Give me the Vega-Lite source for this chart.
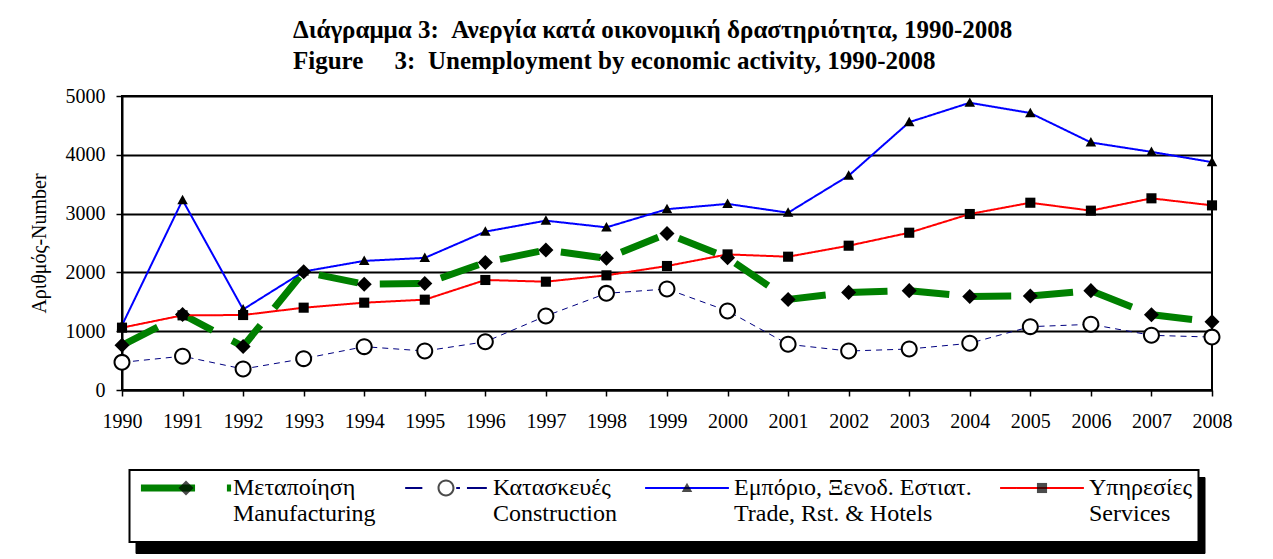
{
  "$schema": "https://vega.github.io/schema/vega-lite/v6.json",
  "width": 1090,
  "height": 294,
  "autosize": {"type": "none"},
  "padding": {"left": 122, "top": 96, "right": 61, "bottom": 169},
  "background": "white",
  "title": {
    "text": ["Διάγραμμα 3:\u00a0\u00a0Ανεργία κατά οικονομική δραστηριότητα, 1990-2008", "Figure\u00a0\u00a0\u00a0\u00a0\u00a03:\u00a0\u00a0Unemployment by economic activity, 1990-2008"],
    "anchor": "start",
    "frame": "group",
    "dx": 171,
    "font": "Liberation Serif",
    "fontSize": 25,
    "fontWeight": "bold",
    "color": "black",
    "lineHeight": 31,
    "offset": 12
  },
  "data": {
    "values": [
      {"year": 1990, "series": "Manufacturing", "value": 760},
      {"year": 1991, "series": "Manufacturing", "value": 1285},
      {"year": 1992, "series": "Manufacturing", "value": 740},
      {"year": 1993, "series": "Manufacturing", "value": 2010},
      {"year": 1994, "series": "Manufacturing", "value": 1800},
      {"year": 1995, "series": "Manufacturing", "value": 1810},
      {"year": 1996, "series": "Manufacturing", "value": 2170},
      {"year": 1997, "series": "Manufacturing", "value": 2380},
      {"year": 1998, "series": "Manufacturing", "value": 2240},
      {"year": 1999, "series": "Manufacturing", "value": 2660},
      {"year": 2000, "series": "Manufacturing", "value": 2250},
      {"year": 2001, "series": "Manufacturing", "value": 1540},
      {"year": 2002, "series": "Manufacturing", "value": 1660},
      {"year": 2003, "series": "Manufacturing", "value": 1690},
      {"year": 2004, "series": "Manufacturing", "value": 1590},
      {"year": 2005, "series": "Manufacturing", "value": 1600},
      {"year": 2006, "series": "Manufacturing", "value": 1690},
      {"year": 2007, "series": "Manufacturing", "value": 1280},
      {"year": 2008, "series": "Manufacturing", "value": 1160},
      {"year": 1990, "series": "Construction", "value": 470},
      {"year": 1991, "series": "Construction", "value": 575},
      {"year": 1992, "series": "Construction", "value": 357},
      {"year": 1993, "series": "Construction", "value": 533},
      {"year": 1994, "series": "Construction", "value": 737},
      {"year": 1995, "series": "Construction", "value": 663},
      {"year": 1996, "series": "Construction", "value": 820},
      {"year": 1997, "series": "Construction", "value": 1259},
      {"year": 1998, "series": "Construction", "value": 1644},
      {"year": 1999, "series": "Construction", "value": 1718},
      {"year": 2000, "series": "Construction", "value": 1344},
      {"year": 2001, "series": "Construction", "value": 777},
      {"year": 2002, "series": "Construction", "value": 663},
      {"year": 2003, "series": "Construction", "value": 697},
      {"year": 2004, "series": "Construction", "value": 794},
      {"year": 2005, "series": "Construction", "value": 1077},
      {"year": 2006, "series": "Construction", "value": 1117},
      {"year": 2007, "series": "Construction", "value": 930},
      {"year": 2008, "series": "Construction", "value": 900},
      {"year": 1990, "series": "Trade", "value": 1100},
      {"year": 1991, "series": "Trade", "value": 3230},
      {"year": 1992, "series": "Trade", "value": 1370},
      {"year": 1993, "series": "Trade", "value": 2015},
      {"year": 1994, "series": "Trade", "value": 2196},
      {"year": 1995, "series": "Trade", "value": 2247},
      {"year": 1996, "series": "Trade", "value": 2693},
      {"year": 1997, "series": "Trade", "value": 2880},
      {"year": 1998, "series": "Trade", "value": 2766},
      {"year": 1999, "series": "Trade", "value": 3075},
      {"year": 2000, "series": "Trade", "value": 3165},
      {"year": 2001, "series": "Trade", "value": 3015},
      {"year": 2002, "series": "Trade", "value": 3645},
      {"year": 2003, "series": "Trade", "value": 4555},
      {"year": 2004, "series": "Trade", "value": 4885},
      {"year": 2005, "series": "Trade", "value": 4710},
      {"year": 2006, "series": "Trade", "value": 4210},
      {"year": 2007, "series": "Trade", "value": 4050},
      {"year": 2008, "series": "Trade", "value": 3875},
      {"year": 1990, "series": "Services", "value": 1060},
      {"year": 1991, "series": "Services", "value": 1270},
      {"year": 1992, "series": "Services", "value": 1275},
      {"year": 1993, "series": "Services", "value": 1400},
      {"year": 1994, "series": "Services", "value": 1485},
      {"year": 1995, "series": "Services", "value": 1536},
      {"year": 1996, "series": "Services", "value": 1871},
      {"year": 1997, "series": "Services", "value": 1842},
      {"year": 1998, "series": "Services", "value": 1950},
      {"year": 1999, "series": "Services", "value": 2109},
      {"year": 2000, "series": "Services", "value": 2306},
      {"year": 2001, "series": "Services", "value": 2267},
      {"year": 2002, "series": "Services", "value": 2454},
      {"year": 2003, "series": "Services", "value": 2675},
      {"year": 2004, "series": "Services", "value": 2993},
      {"year": 2005, "series": "Services", "value": 3185},
      {"year": 2006, "series": "Services", "value": 3050},
      {"year": 2007, "series": "Services", "value": 3260},
      {"year": 2008, "series": "Services", "value": 3140}
    ]
  },
  "encoding": {
    "x": {
      "field": "year",
      "type": "ordinal",
      "scale": {"type": "point", "padding": 0},
      "axis": {
        "title": null,
        "labelAngle": 0,
        "labelFont": "Liberation Serif",
        "labelFontSize": 20,
        "labelColor": "black",
        "labelPadding": 15,
        "domainColor": "black",
        "domainWidth": 2,
        "tickColor": "black",
        "tickWidth": 1.5,
        "tickSize": 6,
        "grid": false
      }
    },
    "y": {
      "field": "value",
      "type": "quantitative",
      "scale": {"domain": [0, 5000], "nice": false},
      "axis": {
        "values": [0, 1000, 2000, 3000, 4000, 5000],
        "format": "d",
        "title": "Αριθμός-Number",
        "titleFont": "Liberation Serif",
        "titleFontSize": 20,
        "titleFontWeight": "normal",
        "titleColor": "black",
        "titlePadding": 16,
        "labelFont": "Liberation Serif",
        "labelFontSize": 20,
        "labelColor": "black",
        "labelPadding": 11,
        "grid": true,
        "gridColor": "black",
        "gridWidth": 2,
        "domainColor": "black",
        "domainWidth": 2,
        "tickColor": "black",
        "tickWidth": 1.5,
        "tickSize": 6
      }
    }
  },
  "layer": [
    {
      "mark": {"type": "line", "strokeCap": "butt"},
      "encoding": {
        "stroke": {
          "field": "series",
          "type": "nominal",
          "sort": ["Manufacturing", "Construction", "Trade", "Services"],
          "scale": {"range": ["#008000", "#000080", "#0000ff", "#ff0000"]},
          "legend": {
            "orient": "none",
            "legendX": 7.5,
            "legendY": 374,
            "direction": "horizontal",
            "columns": 4,
            "columnPadding": 19,
            "gridAlign": "each",
            "padding": 6,
            "title": "\u00a0",
            "titleOrient": "bottom",
            "titleFontSize": 6,
            "titlePadding": 4,
            "fillColor": "white",
            "strokeColor": "black",
            "zindex": 2,
            "symbolSize": 462,
            "symbolStrokeWidth": 2,
            "symbolOffset": 38.5,
            "labelOffset": 35,
            "labelFont": "Liberation Serif",
            "labelFontSize": 24,
            "labelColor": "black",
            "labelLimit": 500,
            "labelBaseline": "middle",
            "labelExpr": "datum.value === 'Manufacturing' ? ['Μεταποίηση', 'Manufacturing'] : datum.value === 'Construction' ? ['Κατασκευές', 'Construction'] : datum.value === 'Trade' ? ['Εμπόριο, Ξενοδ. Εστιατ.', 'Trade, Rst. & Hotels'] : ['Υπηρεσίες', 'Services']",
            "encode": {
              "legend": {"update": {"strokeWidth": {"value": 2}}},
              "symbols": {
                "update": {
                  "shape": {"signal": "datum.value === 'Manufacturing' ? 'M-4.3,0M4.3,0M-4.1,-0.233H0.75V0.233H-4.1Z M3.9,-0.233H4.1V0.233H3.9Z' : datum.value === 'Construction' ? 'M-4.3,0M4.3,0M-3.8,0H-2.2M0.95,0H1.3M1.95,0H3.8' : 'M-4.3,0M4.3,0M-3.9,0H3.9'"},
                  "fill": {"signal": "datum.value === 'Manufacturing' ? '#008000' : 'transparent'"},
                  "strokeWidth": {"value": 2},
                  "strokeDash": {"value": [1, 0]},
                  "size": {"value": 462},
                  "opacity": {"value": 1}
                }
              }
            }
          }
        },
        "strokeWidth": {
          "condition": [
            {"test": "datum.series === 'Manufacturing'", "value": 7},
            {"test": "datum.series === 'Construction'", "value": 1}
          ],
          "value": 2
        },
        "strokeDash": {
          "condition": [
            {"test": "datum.series === 'Manufacturing'", "value": [40, 22]},
            {"test": "datum.series === 'Construction'", "value": [6, 5]}
          ],
          "value": [1, 0]
        }
      }
    },
    {
      "transform": [{"filter": "datum.series === 'Construction'"}],
      "mark": {"type": "point", "shape": "circle", "filled": true, "fill": "white", "strokeWidth": 0, "size": 240, "opacity": 1}
    },
    {
      "mark": {"type": "point", "filled": true, "color": "black", "size": 462},
      "encoding": {
        "shape": {
          "field": "series",
          "type": "nominal",
          "scale": {
            "domain": ["Manufacturing", "Construction", "Trade", "Services"],
            "range": [
              "M-4.3,0M4.3,0M0,-0.7L0.7,0L0,0.7L-0.7,0Z",
              "M-4.3,0M4.3,0M0.79,0A0.79,0.79,0,1,1,-0.79,0A0.79,0.79,0,1,1,0.79,0Z M0.6,0A0.6,0.6,0,1,0,-0.6,0A0.6,0.6,0,1,0,0.6,0Z",
              "M-4.3,0M4.3,0M0,-0.5L0.49,0.38L-0.49,0.38Z",
              "M-4.3,0M4.3,0M-0.47,-0.47H0.47V0.47H-0.47Z"
            ]
          },
          "legend": {
            "orient": "none",
            "legendX": 7.5,
            "legendY": 374,
            "direction": "horizontal",
            "columns": 4,
            "columnPadding": 19,
            "gridAlign": "each",
            "padding": 6,
            "title": "\u00a0",
            "titleOrient": "bottom",
            "titleFontSize": 6,
            "titlePadding": 4,
            "titleColor": "transparent",
            "fillColor": "transparent",
            "strokeColor": "transparent",
            "zindex": 3,
            "symbolSize": 462,
            "symbolStrokeWidth": 2,
            "symbolOffset": 38.5,
            "labelOffset": 35,
            "labelFont": "Liberation Serif",
            "labelFontSize": 24,
            "labelColor": "transparent",
            "labelLimit": 500,
            "labelBaseline": "middle",
            "labelExpr": "datum.value === 'Manufacturing' ? ['Μεταποίηση', 'Manufacturing'] : datum.value === 'Construction' ? ['Κατασκευές', 'Construction'] : datum.value === 'Trade' ? ['Εμπόριο, Ξενοδ. Εστιατ.', 'Trade, Rst. & Hotels'] : ['Υπηρεσίες', 'Services']"
          }
        },
        "opacity": {
          "field": "series",
          "type": "nominal",
          "scale": {"range": [1, 1]},
          "legend": {
            "orient": "none",
            "legendX": 13.5,
            "legendY": 381,
            "direction": "horizontal",
            "columns": 4,
            "columnPadding": 19,
            "gridAlign": "each",
            "padding": 6,
            "title": "\u00a0",
            "titleOrient": "bottom",
            "titleFontSize": 10,
            "titlePadding": 4,
            "titleColor": "transparent",
            "fillColor": "black",
            "strokeColor": "black",
            "zindex": 1,
            "symbolType": "M-4.3,0M4.3,0",
            "symbolSize": 462,
            "symbolStrokeWidth": 2,
            "symbolStrokeColor": "black",
            "symbolFillColor": "transparent",
            "symbolOffset": 38.5,
            "labelOffset": 35,
            "labelFont": "Liberation Serif",
            "labelFontSize": 24,
            "labelColor": "transparent",
            "labelLimit": 500,
            "labelBaseline": "middle",
            "labelExpr": "datum.value === 'Manufacturing' ? ['Μεταποίηση', 'Manufacturing'] : datum.value === 'Construction' ? ['Κατασκευές', 'Construction'] : datum.value === 'Trade' ? ['Εμπόριο, Ξενοδ. Εστιατ.', 'Trade, Rst. & Hotels'] : ['Υπηρεσίες', 'Services']"
          }
        }
      }
    }
  ],
  "config": {
    "font": "Liberation Serif",
    "view": {"stroke": "black", "strokeWidth": 2}
  }
}
